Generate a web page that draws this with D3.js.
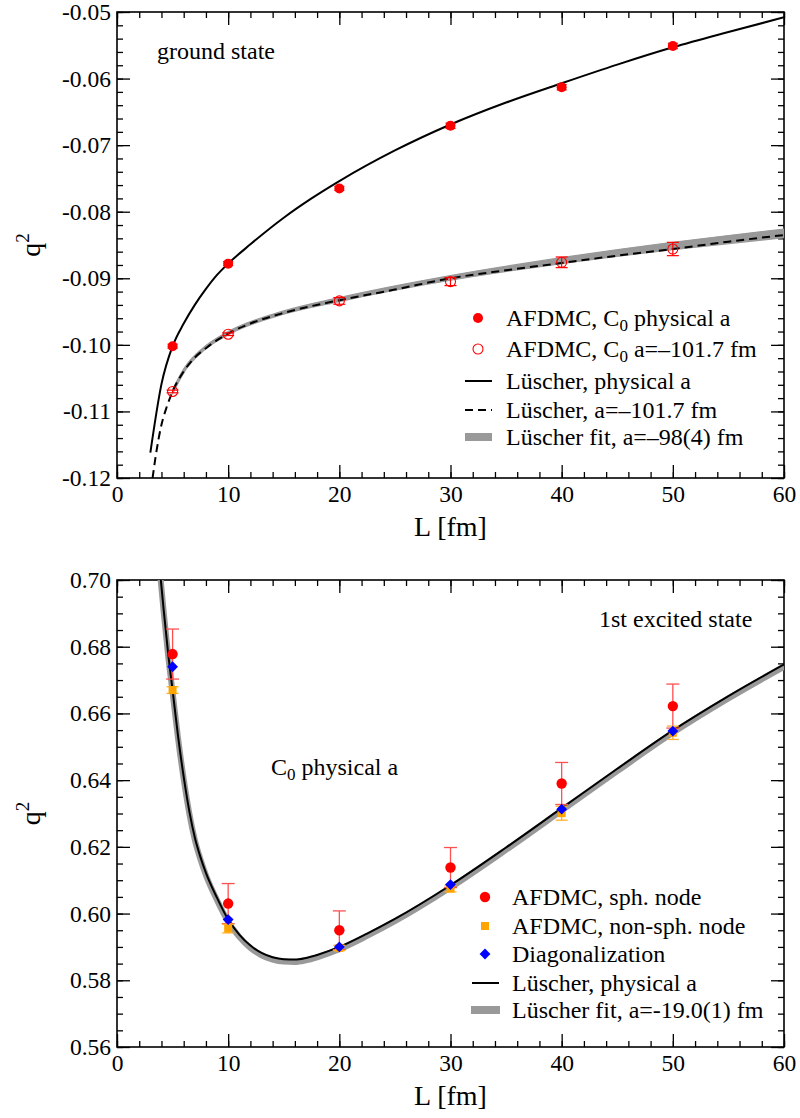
<!DOCTYPE html>
<html><head><meta charset="utf-8">
<script src="https://cdn.jsdelivr.net/npm/d3@7"></script>
<style>
body{margin:0;background:#fff;}
svg text{font-family:"Liberation Serif","Times New Roman",serif;fill:#000;}
</style></head>
<body>
<svg id="c" width="800" height="1118"></svg>
<script>
// ---------- data ----------
const xMajor = [0,10,20,30,40,50,60];
const xMinor = d3.range(0,61,2);
const xLabels = ["0","10","20","30","40","50","60"];

// top panel (ground state)
const topYMajor = [-0.05,-0.06,-0.07,-0.08,-0.09,-0.10,-0.11,-0.12];
const topYLabels = ["-0.05","-0.06","-0.07","-0.08","-0.09","-0.10","-0.11","-0.12"];
const Lpts = [5,10,20,30,40,50];
const gsPhys = [-0.1002,-0.0878,-0.0765,-0.0671,-0.0613,-0.0551];
const gsPhysErr = [0.0003,0.0003,0.0003,0.0004,0.0004,0.0004];
const gsA = [-0.1070,-0.0984,-0.0934,-0.0905,-0.0876,-0.0856];
const gsAErr = [0.0002,0.0002,0.0005,0.0006,0.0008,0.0010];

const lusPhysL = [3,4,5,6,7,8,9,10,12,15,17.5,20,25,30,35,40,45,50,55,60];
const lusPhysQ = [-0.1162,-0.1059,-0.1002,-0.0968,-0.0940,-0.0916,-0.0895,-0.0878,-0.0849,-0.0809,-0.0780,-0.0754,-0.0708,-0.0669,-0.0636,-0.0607,-0.0579,-0.0553,-0.0530,-0.0508];
const lusAL = [3.2,3.5,4,4.5,5,6,7,8,9,10,12,15,20,25,30,35,40,45,50,55,60];
const lusAQ = [-0.1200,-0.1165,-0.1120,-0.1092,-0.1070,-0.1040,-0.1019,-0.1005,-0.0993,-0.0983,-0.0968,-0.0952,-0.0933,-0.0917,-0.0900,-0.0888,-0.0877,-0.0866,-0.0856,-0.0845,-0.0835];
const fitGsL = [5,6,8,10,15,20,30,40,50,60];
const fitGsHi = [-0.1067,-0.1036,-0.1001,-0.0980,-0.0949,-0.0929,-0.0896,-0.0869,-0.0846,-0.0826];
const fitGsLo = [-0.1074,-0.1042,-0.1006,-0.0985,-0.0954,-0.0935,-0.0903,-0.0878,-0.0857,-0.0839];

// bottom panel (1st excited state)
const botYMajor = [0.56,0.58,0.60,0.62,0.64,0.66,0.68,0.70];
const botYMinor = d3.range(0,29).map(i=>0.56+i*0.005);
const botYLabels = ["0.56","0.58","0.60","0.62","0.64","0.66","0.68","0.70"];
const sph = [0.6778,0.6030,0.5950,0.6138,0.6390,0.6622];
const sphErr = [0.0075,0.0060,0.0058,0.0060,0.0063,0.0066];
const nonsph = [0.6670,0.5955,0.5897,0.6075,0.6301,0.6542];
const nonsphErr = [0.0010,0.0013,0.0008,0.0010,0.0021,0.0020];
const diag = [0.6740,0.5982,0.5900,0.6087,0.6313,0.6547];

const exL = [3.9,4.2,4.6,5,5.5,6,6.5,7,7.5,8,9,10,11,12,13,14,15,16,17,18,20,22.5,25,30,35,40,45,50,55,60];
const exPhys = [0.7015,0.6910,0.6780,0.6670,0.6530,0.6410,0.6308,0.6228,0.6170,0.6122,0.6047,0.5982,0.5937,0.5904,0.5882,0.5869,0.5863,0.5862,0.5867,0.5876,0.5900,0.5940,0.5984,0.6085,0.6198,0.6316,0.6434,0.6549,0.6652,0.6747];
const exFit  = [0.7010,0.6904,0.6773,0.6663,0.6523,0.6403,0.6301,0.6221,0.6163,0.6115,0.6040,0.5975,0.5930,0.5897,0.5875,0.5862,0.5856,0.5855,0.5860,0.5869,0.5893,0.5933,0.5977,0.6078,0.6191,0.6309,0.6427,0.6542,0.6645,0.6740];

// ---------- drawing ----------
const svg = d3.select("#c");
const X0 = 117, X1 = 784;
const FS = 23.5;   // tick labels
const LFS = 24;    // legend / annotations
const SERIF = '"Liberation Serif","Times New Roman",serif';

function frame(yTop, yBot, yDomain, yMajor, yMinor, yLabels, id){
  const x = d3.scaleLinear().domain([0,60]).range([X0,X1]);
  const y = d3.scaleLinear().domain(yDomain).range([yBot,yTop]);
  const g = svg.append("g");
  svg.append("clipPath").attr("id",id).append("rect")
    .attr("x",X0).attr("y",yTop).attr("width",X1-X0).attr("height",yBot-yTop);
  const ax = [
    [d3.axisBottom(x).tickValues(xMinor).tickSize(-6).tickFormat(""), yBot],
    [d3.axisBottom(x).tickValues(xMajor).tickSize(-13).tickPadding(7).tickFormat((d,i)=>xLabels[i]), yBot],
    [d3.axisTop(x).tickValues(xMinor).tickSize(-6).tickFormat(""), yTop],
    [d3.axisTop(x).tickValues(xMajor).tickSize(-13).tickFormat(""), yTop]
  ];
  ax.forEach(([a,yy])=>{
    g.append("g").attr("transform",`translate(0,${yy})`).call(a.tickSizeOuter(0));
  });
  const ay = [
    [d3.axisLeft(y).tickValues(yMinor).tickSize(-6).tickFormat(""), X0],
    [d3.axisLeft(y).tickValues(yMajor).tickSize(-13).tickPadding(6).tickFormat((d,i)=>yLabels[i]), X0],
    [d3.axisRight(y).tickValues(yMinor).tickSize(-6).tickFormat(""), X1],
    [d3.axisRight(y).tickValues(yMajor).tickSize(-13).tickFormat(""), X1]
  ];
  ay.forEach(([a,xx])=>{
    g.append("g").attr("transform",`translate(${xx},0)`).call(a.tickSizeOuter(0));
  });
  g.selectAll("g").attr("font-family",SERIF);
  g.selectAll(".domain").remove();
  g.selectAll(".tick line").attr("stroke","#000").attr("stroke-width",1.3);
  g.selectAll(".tick text").attr("font-size",FS).style("font-family",SERIF);
  svg.append("rect").attr("x",X0).attr("y",yTop).attr("width",X1-X0).attr("height",yBot-yTop)
    .attr("fill","none").attr("stroke","#000").attr("stroke-width",1.6);
  svg.append("text").attr("x",(X0+X1)/2).attr("y",yBot+58).attr("text-anchor","middle")
    .attr("font-size",28).text("L [fm]");
  const qt = svg.append("text").attr("transform",`translate(40,${(yTop+yBot)/2}) rotate(-90)`)
    .attr("text-anchor","middle").attr("font-size",28);
  qt.append("tspan").text("q");
  qt.append("tspan").attr("dy",-11).attr("font-size",19).text("2");
  return {x,y};
}

function errbars(layer,x,y,Ls,vals,errs,color,cap,width){
  Ls.forEach((L,i)=>{
    const cx=x(L), t=y(vals[i]+errs[i]), b=y(vals[i]-errs[i]);
    layer.append("line").attr("x1",cx).attr("x2",cx).attr("y1",t).attr("y2",b).attr("stroke",color).attr("stroke-width",width);
    [t,b].forEach(yy=>layer.append("line").attr("x1",cx-cap).attr("x2",cx+cap).attr("y1",yy).attr("y2",yy).attr("stroke",color).attr("stroke-width",width));
  });
}

// ---- top panel ----
{
  const T = 12, B = 478;
  const {x,y} = frame(T,B,[-0.12,-0.05],topYMajor,d3.range(0,36).map(i=>-0.12+i*0.002),topYLabels,"clipTop");
  const pl = svg.append("g").attr("clip-path","url(#clipTop)");
  const area = d3.area().x((d,i)=>x(fitGsL[i])).y0((d,i)=>y(fitGsLo[i])).y1((d,i)=>y(fitGsHi[i])).curve(d3.curveMonotoneX);
  pl.append("path").datum(fitGsL).attr("d",area).attr("fill","#999").attr("stroke","#999").attr("stroke-width",1.2);
  const line = d3.line().curve(d3.curveMonotoneX);
  pl.append("path").attr("d",line(lusAL.map((L,i)=>[x(L),y(lusAQ[i])]))).attr("fill","none").attr("stroke","#000").attr("stroke-width",2).attr("stroke-dasharray","8,5");
  pl.append("path").attr("d",line(lusPhysL.map((L,i)=>[x(L),y(lusPhysQ[i])]))).attr("fill","none").attr("stroke","#000").attr("stroke-width",2);
  errbars(pl,x,y,Lpts,gsPhys,gsPhysErr,"#f00",5,1.2);
  errbars(pl,x,y,Lpts,gsA,gsAErr,"#f00",6,1.2);
  pl.selectAll("circle.f").data(gsPhys).enter().append("circle").attr("cx",(d,i)=>x(Lpts[i])).attr("cy",d=>y(d)).attr("r",5).attr("fill","#f00");
  pl.selectAll("circle.o").data(gsA).enter().append("circle").attr("cx",(d,i)=>x(Lpts[i])).attr("cy",d=>y(d)).attr("r",5).attr("fill","none").attr("stroke","#f00").attr("stroke-width",1.1);

  svg.append("text").attr("x",157).attr("y",59).attr("font-size",LFS).text("ground state");
  const lx=478, tx=506, rows=[318,349,381,410,437];
  svg.append("circle").attr("cx",lx).attr("cy",rows[0]).attr("r",5).attr("fill","#f00");
  svg.append("circle").attr("cx",lx).attr("cy",rows[1]).attr("r",5).attr("fill","none").attr("stroke","#f00").attr("stroke-width",1.1);
  svg.append("line").attr("x1",465).attr("x2",492).attr("y1",rows[2]).attr("y2",rows[2]).attr("stroke","#000").attr("stroke-width",2);
  svg.append("line").attr("x1",465).attr("x2",492).attr("y1",rows[3]).attr("y2",rows[3]).attr("stroke","#000").attr("stroke-width",2).attr("stroke-dasharray","8,5");
  svg.append("rect").attr("x",465).attr("y",rows[4]-4).attr("width",27).attr("height",8).attr("fill","#999");
  const leg = (yy, parts)=>{
    const t = svg.append("text").attr("x",tx).attr("y",yy+8).attr("font-size",LFS);
    parts.forEach(p=>{
      if(p.sub){ t.append("tspan").attr("dy",5).attr("font-size",17).text(p.sub); t.append("tspan").attr("dy",-5).text(p.after||""); }
      else t.append("tspan").text(p.t);
    });
  };
  leg(rows[0],[{t:"AFDMC, C"},{sub:"0",after:" physical a"}]);
  leg(rows[1],[{t:"AFDMC, C"},{sub:"0",after:" a=\u2013101.7 fm"}]);
  leg(rows[2],[{t:"Lüscher, physical a"}]);
  leg(rows[3],[{t:"Lüscher, a=\u2013101.7 fm"}]);
  leg(rows[4],[{t:"Lüscher fit, a=\u201398(4) fm"}]);
}

// ---- bottom panel ----
{
  const T = 580, B = 1047;
  const {x,y} = frame(T,B,[0.56,0.70],botYMajor,botYMinor,botYLabels,"clipBot");
  const pl = svg.append("g").attr("clip-path","url(#clipBot)");
  const line = d3.line().curve(d3.curveMonotoneX);
  pl.append("path").attr("d",line(exL.map((L,i)=>[x(L),y(exFit[i])]))).attr("fill","none").attr("stroke","#999").attr("stroke-width",6);
  pl.append("path").attr("d",line(exL.map((L,i)=>[x(L),y(exPhys[i])]))).attr("fill","none").attr("stroke","#000").attr("stroke-width",2);
  errbars(pl,x,y,Lpts,sph,sphErr,"#ff5050",6.5,1.3);
  errbars(pl,x,y,Lpts,nonsph,nonsphErr,"#ffb030",6,1.3);
  pl.selectAll("rect.sq").data(nonsph).enter().append("rect").attr("x",(d,i)=>x(Lpts[i])-4).attr("y",d=>y(d)-4).attr("width",8).attr("height",8).attr("fill","#ffa500");
  pl.selectAll("circle.s").data(sph).enter().append("circle").attr("cx",(d,i)=>x(Lpts[i])).attr("cy",d=>y(d)).attr("r",5.2).attr("fill","#f00");
  const dia = d3.symbol().type(d3.symbolDiamond2).size(75);
  pl.selectAll("path.dg").data(diag).enter().append("path").attr("d",dia).attr("transform",(d,i)=>`translate(${x(Lpts[i])},${y(d)})`).attr("fill","#00f");

  svg.append("text").attr("x",599).attr("y",627).attr("font-size",LFS).text("1st excited state");
  const ct = svg.append("text").attr("x",271).attr("y",775).attr("font-size",LFS);
  ct.append("tspan").text("C");
  ct.append("tspan").attr("dy",5).attr("font-size",17).text("0");
  ct.append("tspan").attr("dy",-5).text(" physical a");

  const lx=485, tx=512, rows=[897,926,954,983,1010];
  svg.append("circle").attr("cx",lx).attr("cy",rows[0]).attr("r",5.2).attr("fill","#f00");
  svg.append("rect").attr("x",lx-4).attr("y",rows[1]-4).attr("width",8).attr("height",8).attr("fill","#ffa500");
  svg.append("path").attr("d",dia).attr("transform",`translate(${lx},${rows[2]})`).attr("fill","#00f");
  svg.append("line").attr("x1",472).attr("x2",499).attr("y1",rows[3]).attr("y2",rows[3]).attr("stroke","#000").attr("stroke-width",2);
  svg.append("rect").attr("x",471).attr("y",rows[4]-4).attr("width",29).attr("height",8).attr("fill","#999");
  const labs = ["AFDMC, sph. node","AFDMC, non-sph. node","Diagonalization","Lüscher, physical a","Lüscher fit, a=-19.0(1) fm"];
  labs.forEach((s,i)=>svg.append("text").attr("x",tx).attr("y",rows[i]+8).attr("font-size",LFS).text(s));
}
</script>
</body></html>
